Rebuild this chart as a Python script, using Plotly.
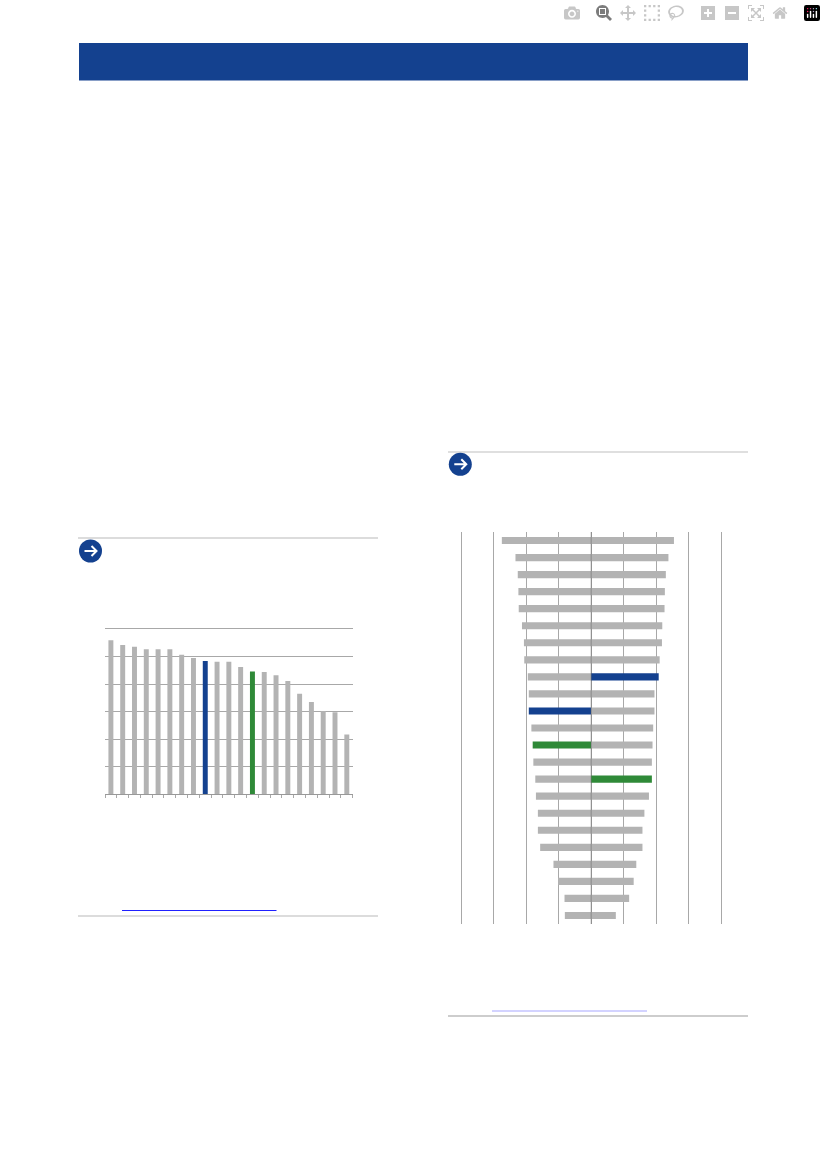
import plotly.graph_objects as go

# values, category labels are not shown in the reference
left_values = [55.9, 54.2, 53.5, 52.6, 52.6, 52.6, 50.6, 49.5, 48.4, 48.1, 48.1,
               46.2, 44.6, 44.4, 43.2, 41.1, 36.5, 33.5, 30.2, 29.8, 21.7]
left_blue = [8]
left_green = [12]

neg_values = [-27.5, -23.3, -22.6, -22.4, -22.3, -21.3, -20.7, -20.6, -19.5, -19.2, -19.2, -18.4,
              -18.0, -17.8, -17.2, -17.0, -16.4, -16.4, -15.7, -11.6, -10.2, -8.2, -8.1]
pos_values = [25.5, 23.8, 23.0, 22.7, 22.6, 21.9, 21.8, 21.1, 20.8, 19.5, 19.5, 19.1,
              18.9, 18.7, 18.7, 17.8, 16.4, 15.8, 15.8, 13.9, 13.1, 11.7, 7.6]
neg_blue = [10]
neg_green = [12]
pos_blue = [8]
pos_green = [14]

y_ticks = [0, 10, 20, 30, 40, 50, 60]
x_ticks = [-40, -30, -20, -10, 0, 10, 20, 30, 40]

GREY = "#b3b3b3"
BLUE = "#14418f"
GREEN = "#2f8a38"
GRID = "#a8a8a8"
W, H = 826, 1169


def colors(n, blue, green):
    out = [GREY] * n
    for i in blue:
        out[i] = BLUE
    for i in green:
        out[i] = GREEN
    return out


def px(x):
    return x / W


def py(y):
    return 1 - y / H


def line(x0, y0, x1, y1, color, width=1.3):
    return dict(type="line", xref="paper", yref="paper", x0=px(x0), y0=py(y0), x1=px(x1), y1=py(y1),
                line=dict(color=color, width=width))


def icon(cx, cy):
    # round blue arrow badge next to each chart title
    r = 11.5
    circle = dict(type="circle", xref="paper", yref="paper", x0=px(cx - r), x1=px(cx + r),
                  y0=py(cy + r), y1=py(cy - r), fillcolor=BLUE, line=dict(width=0))
    pts = [(-6, 0), (6, 0), (1, -5), (6, 0), (1, 5)]
    path = ""
    for i, (dx, dy) in enumerate(pts):
        cmd = "M" if i in (0, 2) else "L"
        path += f"{cmd} {px(cx + dx)} {py(cy + dy)} "
    arrow = dict(type="path", xref="paper", yref="paper", path=path.strip(),
                 line=dict(color="white", width=2))
    return [circle, arrow]


fig = go.Figure()

fig.add_trace(go.Bar(x=list(range(len(left_values))), y=left_values, xaxis="x", yaxis="y",
                     marker=dict(color=colors(len(left_values), left_blue, left_green), line=dict(width=0))))

rows = list(range(len(neg_values)))
fig.add_trace(go.Bar(x=neg_values, y=rows, orientation="h", xaxis="x2", yaxis="y2",
                     marker=dict(color=colors(len(rows), neg_blue, neg_green), line=dict(width=0))))
fig.add_trace(go.Bar(x=pos_values, y=rows, orientation="h", xaxis="x2", yaxis="y2",
                     marker=dict(color=colors(len(rows), pos_blue, pos_green), line=dict(width=0))))

shapes = [
    # page furniture
    dict(type="rect", xref="paper", yref="paper", x0=px(79), x1=px(748), y0=py(80.5), y1=py(43),
         fillcolor=BLUE, line=dict(width=0)),
    line(78, 538, 378, 538, "#d0d0d0"),
    line(78, 916, 378, 916, "#d0d0d0"),
    line(122, 910.5, 276.5, 910.5, "#2020ff", 1),
    line(448, 452, 748, 452, "#d4d4d4"),
    line(448, 1016, 748, 1016, "#bcbcbc"),
    line(492, 1011, 647, 1011, "#a8a8ff", 1.2),
    # centre line shows through the grey bars
    dict(type="line", xref="x2", yref="paper", x0=0, x1=0, y0=py(924), y1=py(532), layer="above",
         line=dict(color="rgba(90,90,90,0.45)", width=1)),
]
shapes += icon(90.5, 551) + icon(460.3, 464.3)

fig.update_layout(
    width=W,
    height=H,
    margin=dict(l=0, r=0, t=0, b=0),
    paper_bgcolor="white",
    plot_bgcolor="white",
    showlegend=False,
    barmode="relative",
    shapes=shapes,
    # left chart
    xaxis=dict(domain=[px(105), px(352.7)], range=[-0.5, 20.5], anchor="y", showgrid=False, zeroline=False,
               tickmode="array", tickvals=[i - 0.5 for i in range(len(left_values) + 1)],
               ticks="outside", ticklen=3, tickcolor=GRID, showticklabels=False,
               showline=True, linecolor="#999999", linewidth=1),
    yaxis=dict(domain=[py(794.3), py(626.2)], range=[0, 61], anchor="x", tickmode="array", tickvals=y_ticks,
               showgrid=True, gridcolor=GRID, gridwidth=1, zeroline=False, showticklabels=False, showline=False),
    # right chart
    xaxis2=dict(domain=[px(458), px(724.3)], range=[-41, 41], anchor="y2", tickmode="array", tickvals=x_ticks,
                showgrid=True, gridcolor=GRID, gridwidth=1, zeroline=False, showticklabels=False, showline=False),
    yaxis2=dict(domain=[py(924), py(532)], range=[22.5, -0.5], anchor="x2", showgrid=False, zeroline=False,
                showticklabels=False, showline=False),
    bargap=0.58,
)

fig.write_html("out.html", post_script="document.body.style.margin='0';")
